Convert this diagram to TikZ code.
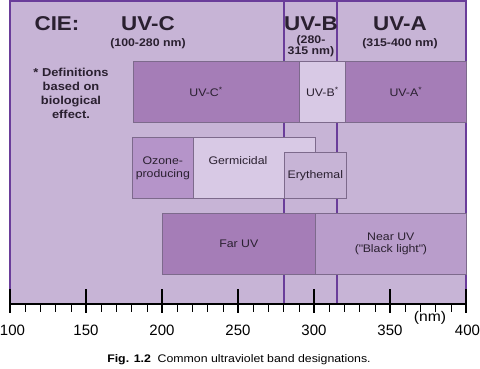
\documentclass[tikz,border=0pt]{standalone}
\usepackage{fontspec}
\setmainfont[FakeStretch=1.12]{Liberation Sans}
\newfontfamily\axisfont{Liberation Sans}
\definecolor{bgpurple}{HTML}{C7B4D6}
\definecolor{darkbox}{HTML}{A57DB7}
\definecolor{medbox}{HTML}{B594C9}
\definecolor{nearbox}{HTML}{B99DCB}
\definecolor{lightbox}{HTML}{D8C9E5}
\definecolor{framecol}{HTML}{6A3D9A}
\definecolor{edgecol}{HTML}{7D6A8C}
\definecolor{txt}{HTML}{2A2030}
\tikzset{
  band/.style={draw=edgecol, line width=0.7pt, anchor=north west, inner sep=0pt, text=txt, font=\fontsize{11}{13}\selectfont, align=center},
  head/.style={font=\bfseries\fontsize{20}{21}\selectfont, text=txt, inner sep=0pt},
  rangetext/.style={font=\bfseries\fontsize{11}{10}\selectfont, text=txt, inner sep=0pt, align=center},
  divline/.style={draw=framecol, line width=1.8pt},
  ticklab/.style={font=\axisfont\fontsize{15}{16}\selectfont, text=black, inner sep=0pt},
}
\begin{document}
\begin{tikzpicture}[x=1pt, y=-1pt]
\useasboundingbox (0,0) rectangle (480,368);
% background frame
\fill[bgpurple] (10,1) rectangle (466,304);
\draw[framecol, line width=1.8pt] (10,304) -- (10,1) -- (466,1) -- (466,304);
% dividers at 280 nm and 315 nm
\coordinate (d1t) at (284,1); \coordinate (d1b) at (284,304);
\coordinate (d2t) at (337,1); \coordinate (d2b) at (337,304);
\draw[divline] (d1t) -- (d1b);
\draw[divline] (d2t) -- (d2b);
% headers
\node[head] (cie) at (57,24) {CIE:};
\node[head] (uvc) at (148,24) {UV-C};
\node[rangetext] (uvcr) at (148,43.5) {(100-280 nm)};
\node[head] (uvb) at (311,24) {UV-B};
\node[rangetext] (uvbr) at (311,46) {(280-\\315 nm)};
\node[head] (uva) at (400,24) {UV-A};
\node[rangetext] (uvar) at (400,43.5) {(315-400 nm)};
\node[rangetext, font=\bfseries\fontsize{11.5}{14.2}\selectfont] (note) at (71,93.5) {* Definitions\\based on\\biological\\effect.};
% CIE boxes
\node[band, fill=darkbox, minimum width=166pt, minimum height=61pt] (cstar) at (133,61) {};
\node[text=txt, font=\fontsize{11}{13}\selectfont] (cstarl) at (206,92) {UV-C\textsuperscript{*}};
\node[band, fill=lightbox, minimum width=46pt, minimum height=61pt] (bstar) at (299,61) {UV-B\textsuperscript{*}};
\node[band, fill=darkbox, minimum width=121pt, minimum height=61pt] (astar) at (345,61) {UV-A\textsuperscript{*}};
% biological effect boxes
\node[band, fill=medbox, minimum width=61pt, minimum height=61pt] (ozone) at (132,137) {Ozone-\\producing};
\node[band, fill=lightbox, minimum width=122pt, minimum height=61pt] (germ) at (193,137) {};
\node[text=txt, font=\fontsize{11}{13}\selectfont] (germl) at (238,161) {Germicidal};
\node[band, fill=bgpurple, minimum width=62pt, minimum height=46pt] (ery) at (284,152) {Erythemal};
% far / near
\node[band, fill=darkbox, minimum width=153pt, minimum height=61pt] (far) at (162,213) {Far UV};
\node[band, fill=nearbox, minimum width=151pt, minimum height=61pt] (near) at (315,213) {\raisebox{-3pt}{\parbox{140pt}{\centering Near UV\\(\textquotedbl Black light\textquotedbl)}}};
% axis
\coordinate (axl) at (10,304); \coordinate (axr) at (466,304);
\draw[black, line width=1.6pt] (axl) -- (axr);
\foreach \n in {110,120,...,390}{
  \draw[black, line width=0.6pt] ({10+(\n-100)*1.52},304) -- ({10+(\n-100)*1.52},312);
}
\foreach \n in {100,150,...,400}{
  \draw[black, line width=1.6pt] ({10+(\n-100)*1.52},289) -- ({10+(\n-100)*1.52},313);
}
\foreach \n/\lx in {100/12.5,150/86,200/162,250/238,300/314,350/390,400/467.5}{
  \node[ticklab] (lab\n) at (\lx,330) {\n};
}
\node[font=\fontsize{14}{15}\selectfont, text=black, inner sep=0pt] (nm) at (430,318) {(nm)};
% caption
\node[font=\fontsize{11}{12}\selectfont, text=black, inner sep=0pt] (cap) at (239,360) {\textbf{Fig. 1.2}\ \ Common ultraviolet band designations.};
\end{tikzpicture}
\end{document}
